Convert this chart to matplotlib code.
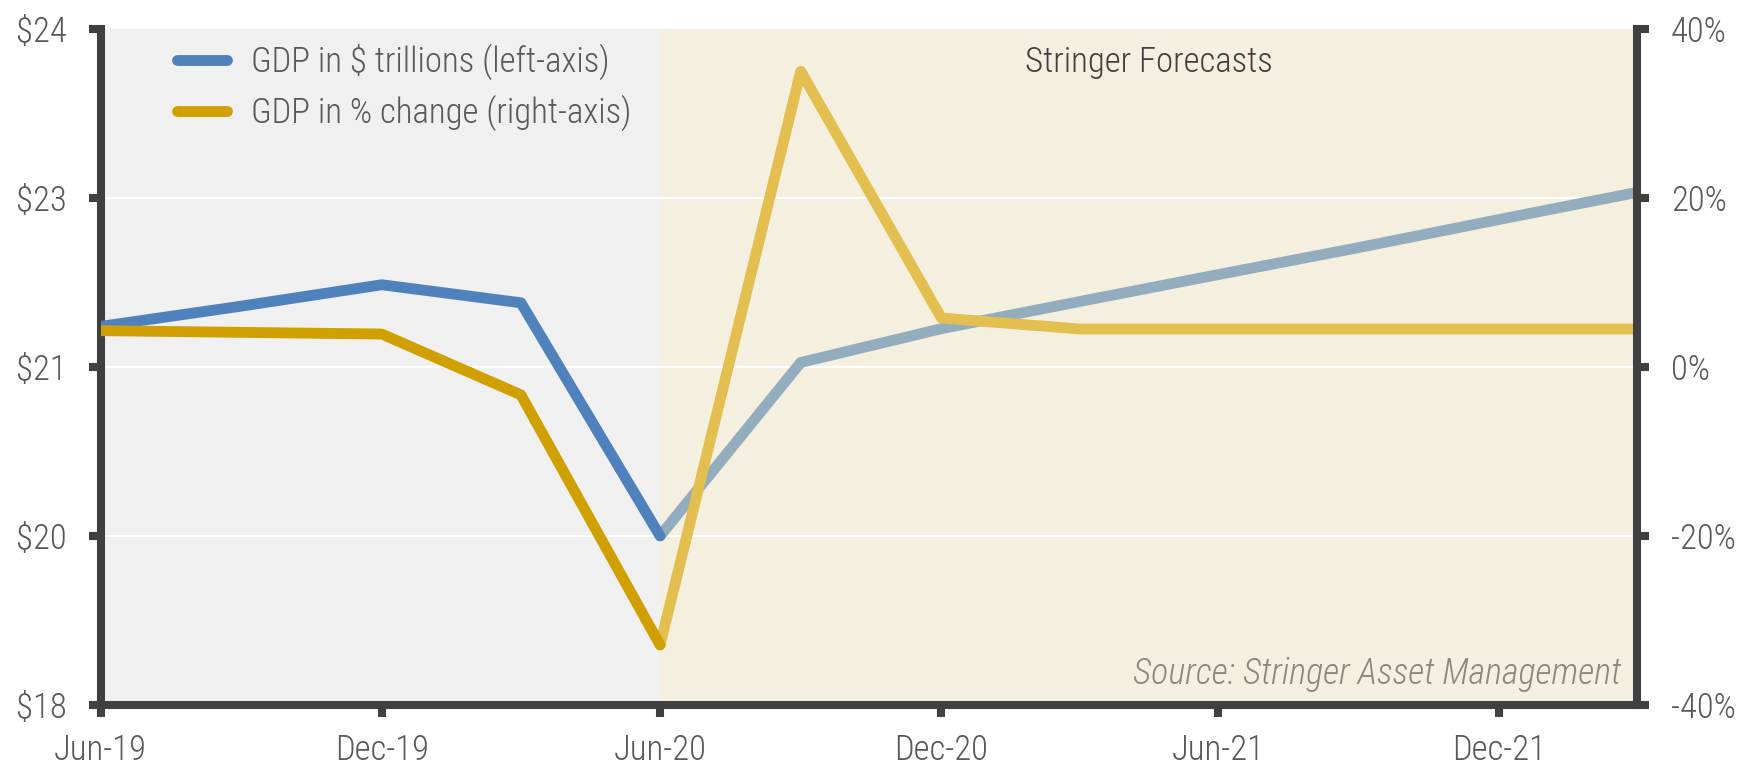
import pandas as pd
import matplotlib
matplotlib.use('Agg')
import matplotlib.pyplot as plt
import matplotlib.dates as mdates
import matplotlib.transforms as mtransforms

# quarterly data, Jun-19 .. Mar-22
dates = pd.to_datetime(['2019-06-30', '2019-09-30', '2019-12-31', '2020-03-31',
                        '2020-06-30', '2020-09-30', '2020-12-31', '2021-03-31',
                        '2021-06-30', '2021-09-30', '2021-12-31', '2022-03-31'])
gdp_level = [21.36, 21.54, 21.73, 21.57, 19.50, 21.04, 21.34, 21.58, 21.82, 22.06, 22.31, 22.55]
gdp_change = [4.3, 4.1, 3.9, -3.3, -32.9, 35.0, 5.8, 4.5, 4.5, 4.5, 4.5, 4.5]
n_hist = 5  # Jun-19 .. Jun-20 actual, after that Stringer forecasts

left_ticks = [18, 19.5, 21, 22.5, 24]
left_labels = ['$18', '$20', '$21', '$23', '$24']
right_ticks = [-40, -20, 0, 20, 40]
xtick_dates = pd.to_datetime(['2019-06-30', '2019-12-31', '2020-06-30',
                              '2020-12-31', '2021-06-30', '2021-12-31'])

plt.rcParams['font.family'] = ['Roboto Condensed', 'DejaVu Sans']
plt.rcParams['font.weight'] = 300

blue, blue_f = '#4f81bd', '#93adbf'
gold, gold_f = '#d0a000', '#e2bf4e'
dark = '#404040'
txt = '#595959'
lw = 7.8

W, H = 1743, 769
fig = plt.figure(figsize=(W/100, H/100), dpi=100)
ax = fig.add_axes([100.5/W, 1 - 705/H, (1637-100.5)/W, (705-29)/H])
ax.set_facecolor('#f0f0f0')
ax2 = ax.twinx()

x0, x1 = dates[0], dates[-1]
ax.axvspan(dates[n_hist-1], x1, color='#f5efdf', zorder=0, lw=0)

for t in left_ticks[1:-1]:
    ax.axhline(t, color='white', lw=1.6, zorder=1)

l1, = ax.plot(dates[:n_hist], gdp_level[:n_hist], color=blue, lw=lw,
              solid_capstyle='round', solid_joinstyle='round', zorder=3,
              label='GDP in $ trillions (left-axis)')
ax.plot(dates[n_hist-1:], gdp_level[n_hist-1:], color=blue_f, lw=lw,
        solid_capstyle='butt', solid_joinstyle='round', zorder=2)

l2, = ax2.plot(dates[:n_hist], gdp_change[:n_hist], color=gold, lw=lw,
               solid_capstyle='round', solid_joinstyle='round', zorder=3,
               label='GDP in % change (right-axis)')
ax2.plot(dates[n_hist-1:], gdp_change[n_hist-1:], color=gold_f, lw=lw,
         solid_capstyle='butt', solid_joinstyle='round', zorder=2)

ax.set_xlim(x0, x1)
ax.set_ylim(18, 24)
ax2.set_ylim(-40, 40)
ax.set_yticks(left_ticks)
ax.set_yticklabels(left_labels)
ax2.set_yticks(right_ticks)
ax2.set_yticklabels([f'{v}%' for v in right_ticks])
ax.set_xticks(xtick_dates)
ax.xaxis.set_major_formatter(mdates.DateFormatter('%b-%y'))

for a in (ax, ax2):
    for s in a.spines.values():
        s.set_color(dark)
        s.set_linewidth(5.8)
    a.spines['top'].set_visible(False)
    a.tick_params(length=8.3, width=5.8, color=dark, labelcolor=txt,
                  labelsize=25, pad=16)
ax.tick_params(axis='x', pad=12)
ax2.spines['left'].set_visible(False)
ax2.spines['bottom'].set_visible(False)
ax.spines['right'].set_visible(False)

leg = ax.legend(handles=[l1, l2], loc='upper left', bbox_to_anchor=(0.0497, 0.978),
                frameon=False, fontsize=25, handlelength=1.45, handletextpad=0.68,
                labelspacing=0.42, borderpad=0, borderaxespad=0)
for t in leg.get_texts():
    t.set_color(txt)

mid = (mdates.date2num(dates[n_hist-1]) + mdates.date2num(x1)) / 2
trans = mtransforms.blended_transform_factory(ax.transData, ax.transAxes)
ax.text(mid, (705-62)/676, 'Stringer Forecasts', transform=trans, ha='center', va='center',
        fontsize=25, color=dark)
ax.text((1621-100.5)/1536.5, (705-684)/676, 'Source: Stringer Asset Management',
        transform=ax.transAxes, ha='right', va='baseline', fontsize=26,
        style='italic', color='#8c8779')

fig.savefig('out.png', dpi=100)
